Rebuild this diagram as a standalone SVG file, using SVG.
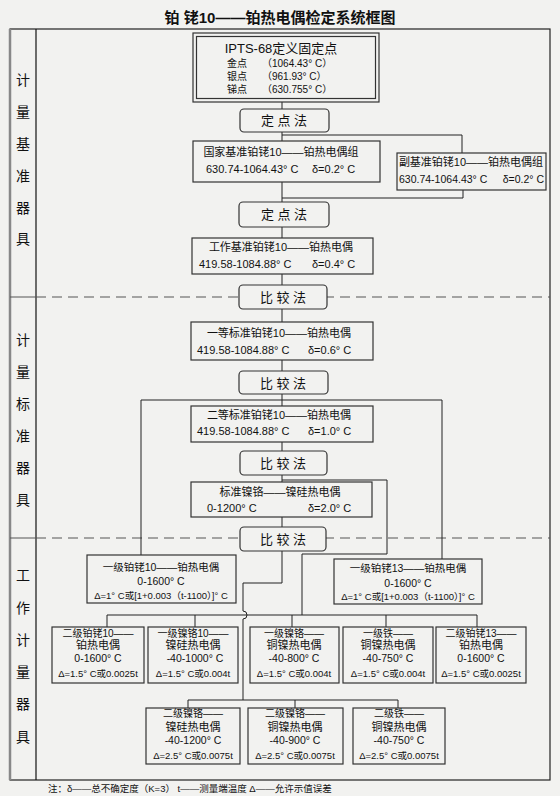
<svg xmlns="http://www.w3.org/2000/svg" width="560" height="796" viewBox="0 0 560 796">
<style>
text { font-family: "Liberation Sans", "Noto Sans CJK SC", sans-serif; fill: #111; }
.c { text-anchor: middle; }
.e { text-anchor: end; }
.title { font-size: 15px; font-weight: bold; text-anchor: middle; }
.side { font-size: 14px; text-anchor: middle; font-family: "Noto Sans CJK SC", sans-serif; }
.box { fill: none; stroke: #333; stroke-width: 1.2; }
.pill { fill: #f2f2f0; stroke: #333; stroke-width: 1.2; }
.ln { fill: none; stroke: #222; stroke-width: 1; }
.f13 { font-size: 13px; }
.f11 { font-size: 11px; }
.f105 { font-size: 10.5px; }
.f10 { font-size: 10px; }
.f95 { font-size: 9.5px; }
.dash { stroke: #555; stroke-width: 1; stroke-dasharray: 10 6; }
</style>
<rect width="560" height="796" fill="#f2f2f0"/>
<text class="title" x="280" y="23">铂 铑10——铂热电偶检定系统框图</text>

<g id="frame">
  <rect x="10" y="29" width="540" height="751" fill="none" stroke="#222" stroke-width="1.2"/>
  <line x1="10" y1="29" x2="10" y2="780" stroke="#888" stroke-width="2.5"/>
  <line x1="36" y1="29" x2="36" y2="780" stroke="#111" stroke-width="1.2"/>
  <line x1="10" y1="297" x2="36" y2="297" stroke="#555"/>
  <line x1="36" y1="297" x2="550" y2="297" class="dash"/>
  <line x1="10" y1="538" x2="36" y2="538" stroke="#555"/>
  <line x1="36" y1="538" x2="550" y2="538" class="dash"/>
</g>

<g id="side-labels">
  <text class="side" x="23" y="85">计</text>
  <text class="side" x="23" y="117">量</text>
  <text class="side" x="23" y="149">基</text>
  <text class="side" x="23" y="181">准</text>
  <text class="side" x="23" y="213">器</text>
  <text class="side" x="23" y="244">具</text>
  <text class="side" x="23" y="345">计</text>
  <text class="side" x="23" y="377">量</text>
  <text class="side" x="23" y="409">标</text>
  <text class="side" x="23" y="441">准</text>
  <text class="side" x="23" y="473">器</text>
  <text class="side" x="23" y="505">具</text>
  <text class="side" x="23" y="580">工</text>
  <text class="side" x="23" y="613">作</text>
  <text class="side" x="23" y="645">计</text>
  <text class="side" x="23" y="677">量</text>
  <text class="side" x="23" y="709">器</text>
  <text class="side" x="23" y="742">具</text>
</g>

<g id="connectors" class="ln">
  <path d="M282,102 V109"/>
  <path d="M282,132 V141"/>
  <path d="M282,135 H462 V153"/>
  <path d="M282,182 V202"/>
  <path d="M282,198 H463 V190"/>
  <path d="M282,227 V238"/>
  <path d="M282,274 V285"/>
  <path d="M282,309 V322"/>
  <path d="M282,360 V371"/>
  <path d="M282,394 V406"/>
  <path d="M141,555 V400 H442 V559"/>
  <path d="M282,442 V451"/>
  <path d="M282,475 V482"/>
  <path d="M282,480 H387 V554 H302 V615"/>
  <path d="M282,517 V527"/>
  <path d="M282,551 V583 H243 V611 A4,4 0 0 1 243,619 V700"/>
  <path d="M107,627 V615 H477 V627"/>
  <path d="M195,615 V627 M292,615 V627 M386,615 V627"/>
  <path d="M188,708 V700 H398 V708 M295,700 V708"/>
</g>

<g id="ipts">
  <rect x="193" y="33" width="186" height="69" class="box" stroke-width="1.6"/>
  <rect x="196.5" y="36.5" width="179" height="62" class="box" stroke-width="1"/>
  <text class="c f13" x="281" y="53">IPTS-68定义固定点</text>
  <text class="f10" x="227" y="67">金点</text>
  <text class="f10" x="262" y="67">（1064.43° C）</text>
  <text class="f10" x="227" y="80">银点</text>
  <text class="f10" x="262" y="80">（961.93° C）</text>
  <text class="f10" x="227" y="93">锑点</text>
  <text class="f10" x="262" y="93">（630.755° C）</text>
</g>

<g id="dingdian1">
  <rect x="240" y="109" width="89" height="23" rx="4" class="pill"/>
  <text class="c f13" x="284" y="125">定 点 法</text>
</g>

<g id="guojia">
  <rect x="193" y="141" width="187" height="41" class="box"/>
  <text class="c f11" x="281" y="156">国家基准铂铑10——铂热电偶组</text>
  <text class="f11" x="206" y="173">630.74-1064.43° C</text>
  <text class="f11" x="312" y="173">δ=0.2° C</text>
</g>

<g id="fujizhun">
  <rect x="397" y="153" width="149" height="37" class="box"/>
  <text class="c f11" x="471" y="166">副基准铂铑10——铂热电偶组</text>
  <text class="f105" x="399" y="183">630.74-1064.43° C</text>
  <text class="e f105" x="544" y="183">δ=0.2° C</text>
</g>

<g id="dingdian2">
  <rect x="239" y="202" width="90" height="25" rx="4" class="pill"/>
  <text class="c f13" x="284" y="219">定 点 法</text>
</g>

<g id="gongzuo">
  <rect x="192" y="238" width="181" height="36" class="box"/>
  <text class="c f11" x="281" y="251">工作基准铂铑10——铂热电偶</text>
  <text class="f11" x="199" y="268">419.58-1084.88° C</text>
  <text class="f11" x="312" y="268">δ=0.4° C</text>
</g>

<g id="bijiao1">
  <rect x="239" y="285" width="88" height="24" rx="4" class="pill"/>
  <text class="c f13" x="283" y="302">比 较 法</text>
</g>

<g id="yideng">
  <rect x="191" y="322" width="182" height="38" class="box"/>
  <text class="c f11" x="279" y="337">一等标准铂铑10——铂热电偶</text>
  <text class="f11" x="197" y="354">419.58-1084.88° C</text>
  <text class="f11" x="308" y="354">δ=0.6° C</text>
</g>

<g id="bijiao2">
  <rect x="239" y="371" width="89" height="23" rx="4" class="pill"/>
  <text class="c f13" x="283" y="388">比 较 法</text>
</g>

<g id="erdeng">
  <rect x="191" y="406" width="182" height="36" class="box"/>
  <text class="c f11" x="279" y="419">二等标准铂铑10——铂热电偶</text>
  <text class="f11" x="197" y="435">419.58-1084.88° C</text>
  <text class="f11" x="308" y="435">δ=1.0° C</text>
</g>

<g id="bijiao3">
  <rect x="240" y="451" width="87" height="24" rx="4" class="pill"/>
  <text class="c f13" x="283" y="468">比 较 法</text>
</g>

<g id="biaozhunniege">
  <rect x="191" y="482" width="181" height="35" class="box"/>
  <text class="c f11" x="280" y="496">标准镍铬——镍硅热电偶</text>
  <text class="f11" x="207" y="512">0-1200° C</text>
  <text class="f11" x="308" y="512">δ=2.0° C</text>
</g>

<g id="bijiao4">
  <rect x="240" y="527" width="86" height="24" rx="4" class="pill"/>
  <text class="c f13" x="283" y="544">比 较 法</text>
</g>

<g id="yiji-bolao10">
  <rect x="87" y="555" width="149" height="48" class="box"/>
  <text class="c f105" x="161" y="571">一级铂铑10——铂热电偶</text>
  <text class="c f105" x="161" y="585">0-1600° C</text>
  <text class="c f95" x="161" y="599">Δ=1° C或[1+0.003（t-1100）]° C</text>
</g>

<g id="yiji-bolao13">
  <rect x="334" y="559" width="148" height="45" class="box"/>
  <text class="c f105" x="408" y="572">一级铂铑13——铂热电偶</text>
  <text class="c f105" x="408" y="587">0-1600° C</text>
  <text class="c f95" x="408" y="600">Δ=1° C或[1+0.003（t-1100）]° C</text>
</g>

<g id="erji-bolao10">
  <rect x="52" y="627" width="92" height="56" class="box"/>
  <text class="c f10" x="98" y="637">二级铂铑10——</text>
  <text class="c f11" x="98" y="649">铂热电偶</text>
  <text class="c f105" x="98" y="662">0-1600° C</text>
  <text class="c f95" x="98" y="677">Δ=1.5° C或0.0025t</text>
</g>

<g id="yiji-niege10">
  <rect x="148" y="627" width="90" height="56" class="box"/>
  <text class="c f10" x="193" y="637">一级镍铬10——</text>
  <text class="c f11" x="193" y="649">镍硅热电偶</text>
  <text class="c f105" x="195" y="662">-40-1000° C</text>
  <text class="c f95" x="193" y="677">Δ=1.5° C或0.004t</text>
</g>

<g id="yiji-niege">
  <rect x="250" y="627" width="89" height="56" class="box"/>
  <text class="c f10" x="294" y="637">一级镍铬——</text>
  <text class="c f11" x="294" y="649">铜镍热电偶</text>
  <text class="c f105" x="294" y="662">-40-800° C</text>
  <text class="c f95" x="294" y="677">Δ=1.5° C或0.004t</text>
</g>

<g id="yiji-tie">
  <rect x="343" y="627" width="90" height="56" class="box"/>
  <text class="c f10" x="388" y="637">一级铁——</text>
  <text class="c f11" x="388" y="649">铜镍热电偶</text>
  <text class="c f105" x="388" y="662">-40-750° C</text>
  <text class="c f95" x="388" y="677">Δ=1.5° C或0.004t</text>
</g>

<g id="erji-bolao13">
  <rect x="436" y="627" width="90" height="56" class="box"/>
  <text class="c f10" x="481" y="637">二级铂铑13——</text>
  <text class="c f11" x="481" y="649">铂热电偶</text>
  <text class="c f105" x="481" y="662">0-1600° C</text>
  <text class="c f95" x="481" y="677">Δ=1.5° C或0.0025t</text>
</g>

<g id="erji-niege-niegui">
  <rect x="146" y="708" width="94" height="56" class="box"/>
  <text class="c f10" x="193" y="717">二级镍铬——</text>
  <text class="c f11" x="193" y="731">镍硅热电偶</text>
  <text class="c f105" x="193" y="744">-40-1200° C</text>
  <text class="c f95" x="193" y="759">Δ=2.5° C或0.0075t</text>
</g>

<g id="erji-niege-tongnie">
  <rect x="248" y="708" width="95" height="56" class="box"/>
  <text class="c f10" x="295" y="717">二级镍铬——</text>
  <text class="c f11" x="295" y="731">铜镍热电偶</text>
  <text class="c f105" x="295" y="744">-40-900° C</text>
  <text class="c f95" x="295" y="759">Δ=2.5° C或0.0075t</text>
</g>

<g id="erji-tie">
  <rect x="353" y="708" width="92" height="56" class="box"/>
  <text class="c f10" x="399" y="717">二级铁——</text>
  <text class="c f11" x="399" y="731">铜镍热电偶</text>
  <text class="c f105" x="399" y="744">-40-750° C</text>
  <text class="c f95" x="399" y="759">Δ=2.5° C或0.0075t</text>
</g>

<text class="f95" x="48" y="792">注：δ——总不确定度（K=3） t——测量端温度 Δ——允许示值误差</text>
</svg>
